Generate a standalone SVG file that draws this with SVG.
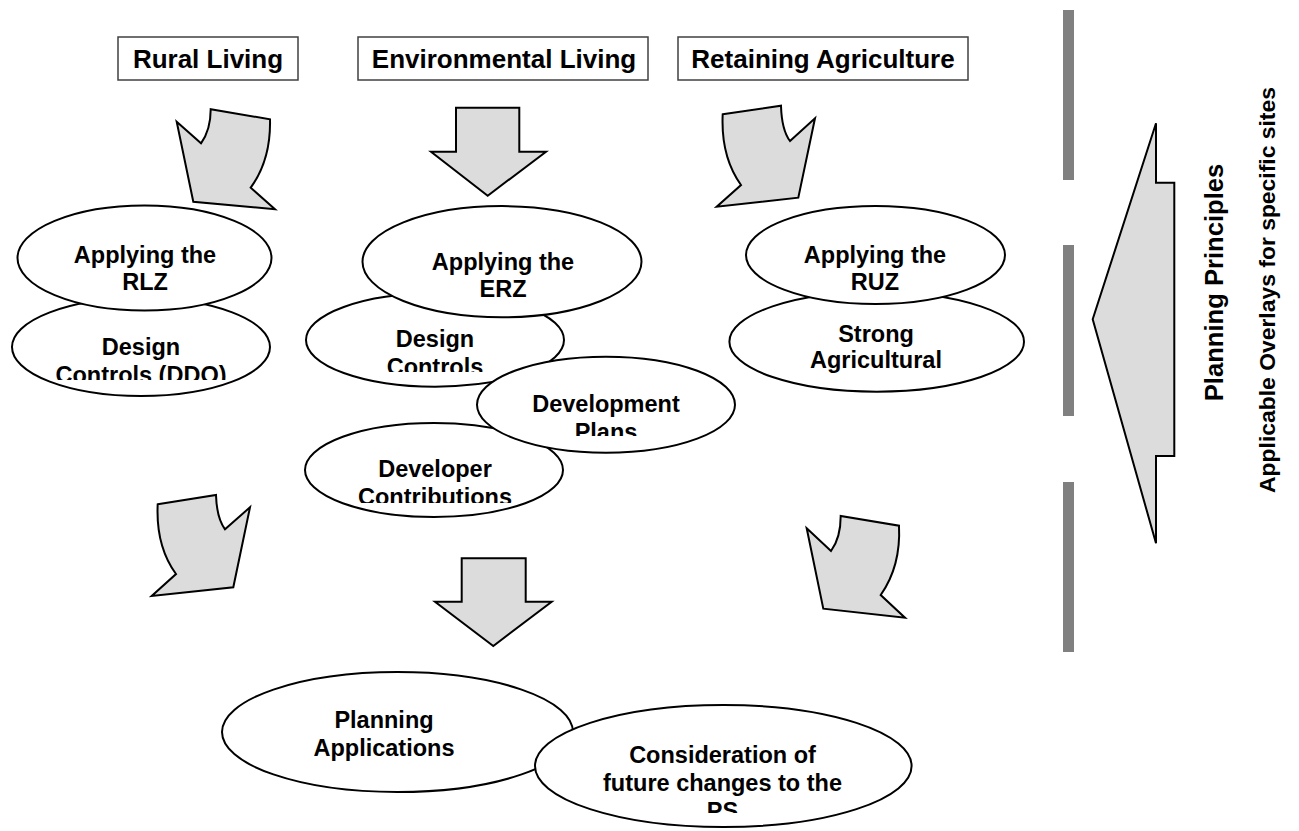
<svg xmlns="http://www.w3.org/2000/svg" width="1299" height="831" viewBox="0 0 1299 831">
  <style>
    .box { fill: #ffffff; stroke: #404040; stroke-width: 1.5; }
    .oval { fill: #ffffff; stroke: #000000; stroke-width: 2; }
    .arrow { fill: #dcdcdc; stroke: #000000; stroke-width: 2; stroke-linejoin: miter; }
    .bar { fill: #808080; }
    text { font-family: "Liberation Sans", Arial, sans-serif; font-weight: bold; fill: #000000; text-anchor: middle; }
    .hdr { font-size: 26px; }
    .lbl { font-size: 23.5px; }
  </style>
  <defs>
    <clipPath id="clipE2"><rect x="0" y="0" width="1299" height="380"/></clipPath>
    <clipPath id="clipE4"><rect x="0" y="0" width="1299" height="372"/></clipPath>
    <clipPath id="clipE5"><rect x="0" y="0" width="1299" height="436"/></clipPath>
    <clipPath id="clipE6"><rect x="0" y="0" width="1299" height="503"/></clipPath>
    <clipPath id="clipE10"><rect x="0" y="0" width="1299" height="813"/></clipPath>
  </defs>

  <!-- header boxes -->
  <g id="rural-living">
    <rect class="box" x="118" y="37" width="180" height="43"/>
    <text class="hdr" x="208" y="68">Rural Living</text>
  </g>
  <g id="environmental-living">
    <rect class="box" x="358" y="37" width="290" height="43"/>
    <text class="hdr" x="504" y="68">Environmental Living</text>
  </g>
  <g id="retaining-agriculture">
    <rect class="box" x="678" y="37" width="290" height="43"/>
    <text class="hdr" x="823" y="68">Retaining Agriculture</text>
  </g>

  <!-- flow arrows -->
  <g id="connectors">
    <path class="arrow" d="M176.7,121.7 L201,143.3 Q210.7,130 210.7,109.3 L270,119.3 Q271,160 250.7,187.7 L275,209.3 L193.3,201.7 Z"/>
    <path class="arrow" d="M456,107.7 H519.3 V151.7 H546 L487.7,195.7 L431,151.7 H456 Z"/>
    <path class="arrow" d="M722.7,114.3 L781,105.7 Q781.7,130 790,141 L815,118.3 L798.3,197.7 L716.7,206.7 L741,185 Q720.7,156.7 722.7,114.3 Z"/>
    <path class="arrow" d="M157.7,504.3 L216,495 Q216.7,518 225,529.3 L250,507.3 L233.3,587.3 L151.7,596 L176,574 Q155.7,546 157.7,504.3 Z"/>
    <path class="arrow" d="M461.7,558.3 H525.7 V601.7 H551.7 L493.3,646 L435,601.7 H461.7 Z"/>
    <path class="arrow" d="M806.7,528.3 L831,551 Q840.7,538 840.7,516 L899,525.7 Q901,566 880.7,595 L905,617.7 L823.3,608.7 Z"/>
    <path class="arrow" d="M1092.7,319.3 L1156,123.3 V182.7 H1174.3 V456 H1156 V543.3 Z"/>
  </g>

  <!-- divider bars -->
  <g id="bars">
    <rect class="bar" x="1063" y="10" width="11" height="170"/>
    <rect class="bar" x="1063" y="245" width="11" height="171"/>
    <rect class="bar" x="1063" y="482" width="11" height="170"/>
  </g>

  <!-- side labels -->
  <g id="side-labels">
    <text x="0" y="0" font-size="25.6" transform="translate(1223,282.5) rotate(-90)">Planning Principles</text>
    <text x="0" y="0" font-size="22.9" transform="translate(1274.5,290) rotate(-90)">Applicable Overlays for specific sites</text>
  </g>

  <!-- rural living column -->
  <g id="design-controls-ddo">
    <ellipse class="oval" cx="141" cy="347" rx="129" ry="49"/>
    <g clip-path="url(#clipE2)">
      <text class="lbl" x="141" y="355">Design</text>
      <text class="lbl" x="141" y="383.4">Controls (DDO)</text>
    </g>
  </g>
  <g id="applying-rlz">
    <ellipse class="oval" cx="144.5" cy="258" rx="127" ry="52.5"/>
    <text class="lbl" x="145" y="263.4">Applying the</text>
    <text class="lbl" x="145" y="290">RLZ</text>
  </g>

  <!-- environmental living column -->
  <g id="developer-contributions">
    <ellipse class="oval" cx="434" cy="470" rx="129" ry="47"/>
    <g clip-path="url(#clipE6)">
      <text class="lbl" x="435" y="476.7">Developer</text>
      <text class="lbl" x="435" y="505">Contributions</text>
    </g>
  </g>
  <g id="design-controls">
    <ellipse class="oval" cx="435" cy="340" rx="129" ry="46.7"/>
    <g clip-path="url(#clipE4)">
      <text class="lbl" x="435" y="346.7">Design</text>
      <text class="lbl" x="435" y="375">Controls</text>
    </g>
  </g>
  <g id="development-plans">
    <ellipse class="oval" cx="606" cy="404.7" rx="129" ry="48"/>
    <g clip-path="url(#clipE5)">
      <text class="lbl" x="606" y="411.7">Development</text>
      <text class="lbl" x="606" y="440">Plans</text>
    </g>
  </g>
  <g id="applying-erz">
    <ellipse class="oval" cx="502" cy="261.7" rx="139.5" ry="55.6"/>
    <text class="lbl" x="503" y="270">Applying the</text>
    <text class="lbl" x="503" y="296.7">ERZ</text>
  </g>

  <!-- retaining agriculture column -->
  <g id="strong-agricultural">
    <ellipse class="oval" cx="876.7" cy="341.7" rx="147.3" ry="50"/>
    <text class="lbl" x="876" y="341.7">Strong</text>
    <text class="lbl" x="876" y="368.4">Agricultural</text>
  </g>
  <g id="applying-ruz">
    <ellipse class="oval" cx="875.5" cy="255" rx="129.5" ry="49"/>
    <text class="lbl" x="875" y="263.4">Applying the</text>
    <text class="lbl" x="875" y="290">RUZ</text>
  </g>

  <!-- outcomes -->
  <g id="planning-applications">
    <ellipse class="oval" cx="397.5" cy="732" rx="175.5" ry="60"/>
    <text class="lbl" x="384" y="728">Planning</text>
    <text class="lbl" x="384" y="756">Applications</text>
  </g>
  <g id="future-changes">
    <ellipse class="oval" cx="723.3" cy="766" rx="188.3" ry="61"/>
    <g clip-path="url(#clipE10)">
      <text class="lbl" x="722.5" y="763.4">Consideration of</text>
      <text class="lbl" x="722.5" y="790.5">future changes to the</text>
      <text class="lbl" x="722.5" y="818.7">PS</text>
    </g>
  </g>
</svg>
